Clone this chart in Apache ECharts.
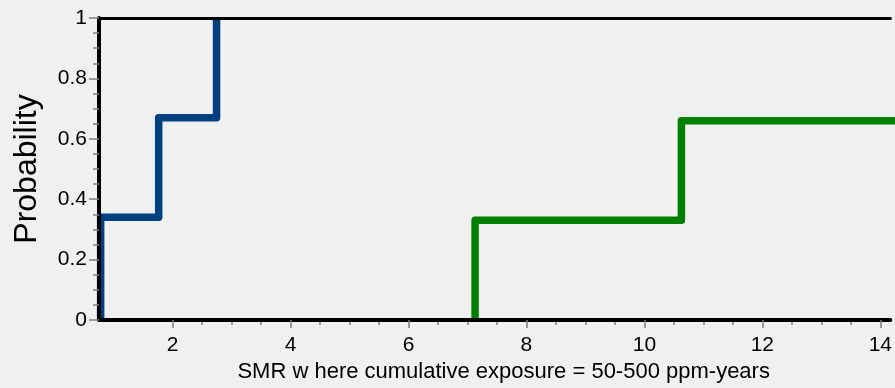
<!DOCTYPE html>
<html>
<head>
<meta charset="utf-8">
<script src="https://cdn.jsdelivr.net/npm/echarts@6/dist/echarts.min.js"></script>
<style>
html,body{margin:0;padding:0;background:#f0f0f0;}
#chart{width:895px;height:388px;}
</style>
</head>
<body>
<div id="chart"></div>
<script>
// Data
var blueX = [0.78, 0.78, 1.764, 2.745];
var blueY = [0, 0.34, 0.67, 1.0];
var greenX = [7.129, 7.129, 10.627, 16];
var greenY = [0, 0.33, 0.66, 0.66];
var xMajorTicks = [2, 4, 6, 8, 10, 12, 14];
var xMinorTicks = [2.5, 3, 3.5, 4.5, 5, 5.5, 6.5, 7, 7.5, 8.5, 9, 9.5, 10.5, 11, 11.5, 12.5, 13, 13.5];
var xMin = 0.752, xMax = 14.17;
var xTitle = 'SMR w here cumulative exposure = 50-500 ppm-years';
var yTitle = 'Probability';

function pairs(xs, ys) { return xs.map(function (x, i) { return [x, ys[i]]; }); }

var font = '"Liberation Sans", Arial, sans-serif';
var tickColor = '#7f7f7f';
var chart = echarts.init(document.getElementById('chart'), null, {renderer: 'canvas'});
chart.setOption({
  backgroundColor: '#f0f0f0',
  animation: false,
  grid: {left: 99, right: 0, top: 18, bottom: 67, containLabel: false},
  xAxis: [
    {
      type: 'value', position: 'bottom', min: xMin, max: xMax, z: 5,
      name: xTitle, nameLocation: 'middle', nameGap: 41,
      nameTextStyle: {fontFamily: font, fontSize: 22, color: '#000', padding: [0, 0, 0, 18]},
      axisLine: {show: true, onZero: false, lineStyle: {color: '#000', width: 4}},
      axisTick: {show: true, customValues: xMajorTicks, length: 8, lineStyle: {color: tickColor, width: 1.5}},
      axisLabel: {show: true, customValues: xMajorTicks, margin: 15, fontFamily: font, fontSize: 21, color: '#000'},
      splitLine: {show: false}
    },
    {
      type: 'value', position: 'bottom', min: xMin, max: xMax, z: 4,
      axisLine: {show: false, onZero: false},
      axisTick: {show: true, customValues: xMinorTicks, length: 5, lineStyle: {color: tickColor, width: 1.5}},
      axisLabel: {show: false},
      splitLine: {show: false}
    },
    {
      type: 'value', position: 'top', min: xMin, max: xMax, z: 4,
      axisLine: {show: true, onZero: false, lineStyle: {color: '#000', width: 3}},
      axisTick: {show: false},
      axisLabel: {show: false},
      splitLine: {show: false}
    }
  ],
  yAxis: {
    type: 'value', min: 0, max: 1, interval: 0.2, z: 5,
    name: yTitle, nameLocation: 'middle', nameGap: 56, nameRotate: 90,
    nameTextStyle: {fontFamily: font, fontSize: 32, color: '#000'},
    axisLine: {show: true, onZero: false, lineStyle: {color: '#000', width: 4}},
    axisTick: {show: true, length: 10, lineStyle: {color: tickColor, width: 1.5}},
    minorTick: {show: true, splitNumber: 4, length: 6, lineStyle: {color: tickColor, width: 1.5}},
    axisLabel: {margin: 12, fontFamily: font, fontSize: 21, color: '#000'},
    splitLine: {show: false},
    minorSplitLine: {show: false}
  },
  series: [
    {
      type: 'line', xAxisIndex: 0, step: 'end', data: pairs(blueX, blueY),
      showSymbol: false, symbol: 'none', clip: true,
      lineStyle: {color: '#004080', width: 7.5, join: 'round', cap: 'butt'}
    },
    {
      type: 'line', xAxisIndex: 0, step: 'end', data: pairs(greenX, greenY),
      showSymbol: false, symbol: 'none', clip: true,
      lineStyle: {color: '#008000', width: 7.5, join: 'round', cap: 'butt'}
    }
  ]
});
</script>
</body>
</html>
